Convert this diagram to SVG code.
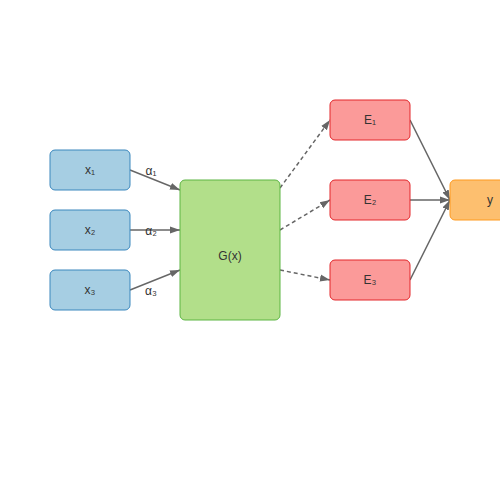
<svg xmlns="http://www.w3.org/2000/svg" width="500" height="500" viewBox="0 0 500 500">
<defs>
<marker id="arr" viewBox="0 0 10 10" refX="10" refY="5" markerWidth="10" markerHeight="10" markerUnits="userSpaceOnUse" orient="auto">
<path d="M0,1.5 L10,5 L0,8.5 z" fill="#666"/>
</marker>
</defs>
<style>
.lbl{font-family:"Liberation Sans",Arial,sans-serif;font-size:12px;fill:#333;text-anchor:middle;dominant-baseline:central}
.in rect{fill:#a6cee3;stroke:#3a87bd;stroke-width:1}
.g rect{fill:#b2df8a;stroke:#5db543;stroke-width:1}
.e rect{fill:#fb9a99;stroke:#e3262a;stroke-width:1}
.o rect{fill:#fdbf6f;stroke:#ff9a1f;stroke-width:1}
.c{stroke:#666;stroke-width:1.5;fill:none;marker-end:url(#arr)}
.d{stroke-dasharray:4,3}
</style>
<rect width="500" height="500" fill="#fff"/>
<g id="connectors">
<line class="c" x1="130" y1="170" x2="180" y2="190"/>
<line class="c" x1="130" y1="230" x2="180" y2="230"/>
<line class="c" x1="130" y1="290" x2="180" y2="270"/>
<line class="c d" x1="280" y1="188" x2="330" y2="120"/>
<line class="c d" x1="280" y1="230" x2="330" y2="200"/>
<line class="c d" x1="280" y1="270" x2="330" y2="280"/>
<line class="c" x1="410" y1="120" x2="450" y2="200"/>
<line class="c" x1="410" y1="200" x2="450" y2="200"/>
<line class="c" x1="410" y1="280" x2="450" y2="200"/>
<text class="lbl" x="151" y="171">α₁</text>
<text class="lbl" x="151" y="231">α₂</text>
<text class="lbl" x="151" y="291">α₃</text>
</g>
<g id="x1" class="in"><rect x="50" y="150" width="80" height="40" rx="5"/><text class="lbl" x="90" y="170">x₁</text></g>
<g id="x2" class="in"><rect x="50" y="210" width="80" height="40" rx="5"/><text class="lbl" x="90" y="230">x₂</text></g>
<g id="x3" class="in"><rect x="50" y="270" width="80" height="40" rx="5"/><text class="lbl" x="90" y="290">x₃</text></g>
<g id="G" class="g"><rect x="180" y="180" width="100" height="140" rx="5"/><text class="lbl" x="230" y="256">G(x)</text></g>
<g id="E1" class="e"><rect x="330" y="100" width="80" height="40" rx="5"/><text class="lbl" x="370" y="120">E₁</text></g>
<g id="E2" class="e"><rect x="330" y="180" width="80" height="40" rx="5"/><text class="lbl" x="370" y="200">E₂</text></g>
<g id="E3" class="e"><rect x="330" y="260" width="80" height="40" rx="5"/><text class="lbl" x="370" y="280">E₃</text></g>
<g id="y" class="o"><rect x="450" y="180" width="80" height="40" rx="5"/><text class="lbl" x="490" y="200">y</text></g>
</svg>
